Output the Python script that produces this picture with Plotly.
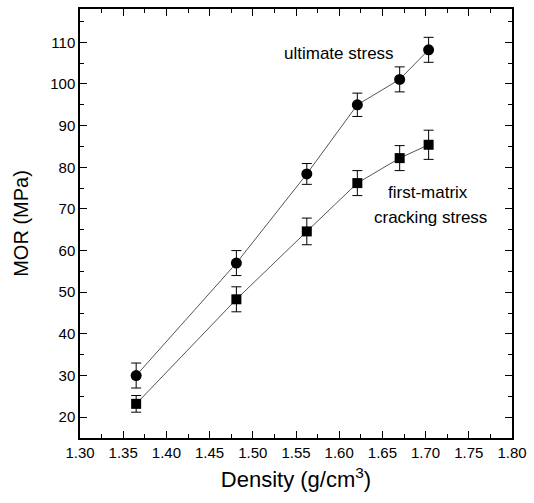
import plotly.graph_objects as go

density = [1.365, 1.481, 1.5625, 1.621, 1.670, 1.7035]
ultimate = [30.0, 57.0, 78.4, 95.0, 101.1, 108.2]
ultimate_err = [3.0, 3.0, 2.5, 2.8, 3.0, 3.0]
first_matrix = [23.2, 48.3, 64.6, 76.2, 82.2, 85.4]
first_matrix_err = [2.0, 3.0, 3.2, 3.0, 3.0, 3.5]

x_ticks = [1.30, 1.35, 1.40, 1.45, 1.50, 1.55, 1.60, 1.65, 1.70, 1.75, 1.80]
y_ticks = [20, 30, 40, 50, 60, 70, 80, 90, 100, 110]

FONT = "Liberation Sans, Arial, sans-serif"

fig = go.Figure()
fig.add_trace(go.Scatter(
    x=density, y=ultimate, mode="lines+markers",
    line=dict(color="#555555", width=1),
    marker=dict(symbol="circle", size=11, color="black"),
    error_y=dict(type="data", array=ultimate_err, color="black", thickness=1, width=5),
    showlegend=False,
))
fig.add_trace(go.Scatter(
    x=density, y=first_matrix, mode="lines+markers",
    line=dict(color="#555555", width=1),
    marker=dict(symbol="square", size=10, color="black"),
    error_y=dict(type="data", array=first_matrix_err, color="black", thickness=1, width=5),
    showlegend=False,
))

fig.add_annotation(x=1.60, y=107.3, text="ultimate stress", showarrow=False,
                   font=dict(family=FONT, size=17, color="black"))
fig.add_annotation(x=1.7027, y=73.9, text="first-matrix", showarrow=False,
                   font=dict(family=FONT, size=17, color="black"))
fig.add_annotation(x=1.7062, y=67.9, text="cracking stress", showarrow=False,
                   font=dict(family=FONT, size=17, color="black"))

fig.update_xaxes(
    range=[1.30, 1.80], tickvals=x_ticks, ticktext=[f"{v:.2f}" for v in x_ticks],
    ticks="inside", ticklen=7, tickwidth=1, tickcolor="black",
    minor=dict(ticks="inside", dtick=0.025, tick0=1.30, ticklen=4, tickcolor="black"),
    showline=True, linecolor="black", linewidth=1.5, mirror="ticks",
    showgrid=False, zeroline=False,
    tickfont=dict(family=FONT, size=15, color="black"),
    title=dict(text="Density (g/cm<sup>3</sup>)", font=dict(family=FONT, size=22, color="black"), standoff=12),
)
fig.update_yaxes(
    range=[15, 118], tickvals=y_ticks,
    ticks="inside", ticklen=7, tickwidth=1, tickcolor="black",
    minor=dict(ticks="inside", dtick=5, tick0=15, ticklen=4, tickcolor="black"),
    showline=True, linecolor="black", linewidth=1.5, mirror="ticks",
    showgrid=False, zeroline=False,
    tickfont=dict(family=FONT, size=15, color="black"),
    title=dict(text="MOR (MPa)", font=dict(family=FONT, size=20, color="black"), standoff=16),
)
fig.update_layout(
    width=534, height=503,
    margin=dict(l=80, r=17, t=7, b=65),
    plot_bgcolor="white", paper_bgcolor="white",
)
fig.write_html(
    "out.html",
    config={"displayModeBar": False},
    post_script="document.body.style.margin='0';document.body.style.overflow='hidden';",
)
